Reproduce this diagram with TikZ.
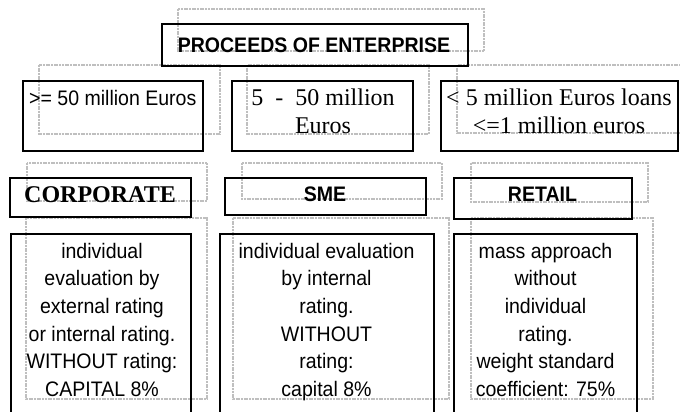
\documentclass[tikz,border=0pt]{standalone}
\usepackage{fontspec}
\newfontfamily\arialf[FakeStretch=0.93]{Liberation Sans}
\newfontfamily\timesf{Liberation Serif}
\tikzset{
  solidbox/.style={draw=black, line width=1.8pt, inner sep=0pt},
  shadowbox/.style={draw=gray!50, line width=1.2pt, dash pattern=on 2pt off 0.7pt},
  sanstxt/.style={font=\arialf\fontsize{21}{27.6}\selectfont, inner sep=0pt, align=center},
  sansbold/.style={font=\arialf\bfseries\fontsize{21}{27.6}\selectfont, inner sep=0pt},
  seriftxt/.style={font=\timesf\fontsize{24}{28}\selectfont, inner sep=0pt, align=center},
  serifbold/.style={font=\timesf\bfseries\fontsize{24}{28}\selectfont, inner sep=0pt},
}
\begin{document}
\begin{tikzpicture}[x=1pt,y=-1pt]
\useasboundingbox (0,0) rectangle (680,412);
\clip (0,0) rectangle (680,412);
\fill[white] (0,0) rectangle (680,412);
% shadow (dotted) boxes
\draw[shadowbox] (178,9) rectangle (484,51);
\draw[shadowbox] (39,65) rectangle (220,134);
\draw[shadowbox] (247,65) rectangle (429,134);
\draw[shadowbox] (457,65) rectangle (690,133);
\draw[shadowbox] (27,163) rectangle (207,201);
\draw[shadowbox] (242,163) rectangle (442,199);
\draw[shadowbox] (471,163) rectangle (648,202);
\draw[shadowbox] (26,218) rectangle (207,399);
\draw[shadowbox] (233,218) rectangle (449,399);
\draw[shadowbox] (471,218) rectangle (653,399);
% solid boxes
\node[solidbox, minimum width=306, minimum height=42] (title) at (315,45) {};
\node[solidbox, minimum width=180, minimum height=70] (big) at (113,116) {};
\node[solidbox, minimum width=181, minimum height=70] (mid) at (322.5,116) {};
\node[solidbox, minimum width=237, minimum height=70] (small) at (559.5,116) {};
\node[solidbox, minimum width=181, minimum height=39] (corp) at (100.5,197.5) {};
\node[solidbox, minimum width=201, minimum height=37] (sme) at (325.5,196.5) {};
\node[solidbox, minimum width=178, minimum height=41] (retail) at (543,198.5) {};
\node[solidbox, minimum width=180, minimum height=196] (corpd) at (101,332) {};
\node[solidbox, minimum width=214, minimum height=196] (smed) at (327,332) {};
\node[solidbox, minimum width=183, minimum height=196] (retaild) at (545.5,332) {};
% texts
\node[sansbold, anchor=base] (titletxt) at (314,53) {PROCEEDS OF ENTERPRISE};
\node[sanstxt, anchor=base west] (bigtxt) at (29,105) {>= 50 million Euros};
\node[seriftxt, anchor=north] (midtxt) at (323,88) {\rule{0pt}{17pt}5\ \ -\ \ 50 million\\Euros};
\node[seriftxt, anchor=north] (smalltxt) at (559,88) {\rule{0pt}{17pt}< 5 million Euros loans\\<=1 million euros};
\node[serifbold, anchor=base] (corptxt) at (100,202) {CORPORATE};
\node[sansbold, anchor=base] (smetxt) at (325,201) {SME};
\node[sansbold, anchor=base] (retailtxt) at (542.5,201) {RETAIL};
\node[sanstxt, anchor=north] (corpdtxt) at (102,242) {\rule{0pt}{16pt}individual\\evaluation by\\external rating\\or internal rating.\\WITHOUT rating:\\CAPITAL 8\%};
\node[sanstxt, anchor=north] (smedtxt) at (326.5,242) {\rule{0pt}{16pt}individual evaluation\\by internal\\rating.\\WITHOUT\\rating:\\capital 8\%};
\node[sanstxt, anchor=north] (retaildtxt) at (545.5,242) {\rule{0pt}{16pt}mass approach\\without\\individual\\rating.\\weight standard\\coefficient: 75\%};
\end{tikzpicture}
\end{document}
